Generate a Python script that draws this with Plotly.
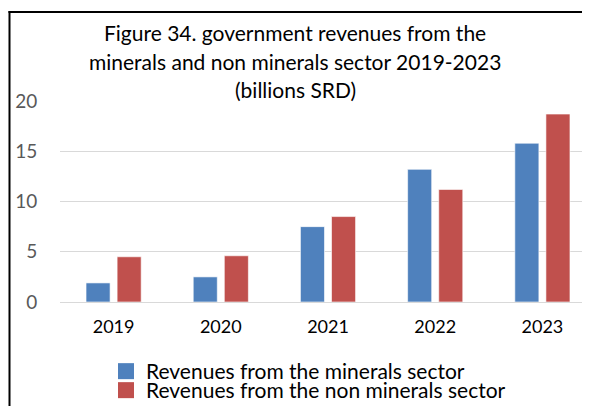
import plotly.graph_objects as go

years = ["2019", "2020", "2021", "2022", "2023"]
minerals = [1.9, 2.5, 7.5, 13.2, 15.8]
non_minerals = [4.5, 4.6, 8.5, 11.2, 18.7]
series_names = ["Revenues from the minerals sector", "Revenues from the non minerals sector"]
title_lines = ["Figure 34. government revenues from the",
               "minerals and non minerals sector 2019-2023",
               "(billions SRD)"]
y_ticks = [0, 5, 10, 15, 20]

BLUE = "#4F81BD"
RED = "#C0504D"
FONT = "Lato"

OFF = 8  # default page margin around the figure
W, H = 590 - OFF, 406 - OFF
L, R, T, B = 60 - OFF, 0, 101 - OFF, 104

fig = go.Figure()
for vals, col in [(minerals, BLUE), (non_minerals, RED)]:
    fig.add_trace(go.Bar(x=years, y=vals, marker=dict(color=col, line=dict(color="rgba(255,255,255,0.6)", width=1)),
                         showlegend=False, hoverinfo="y"))
for name, col, lg in [(series_names[0], BLUE, "legend"), (series_names[1], RED, "legend2")]:
    fig.add_trace(go.Scatter(x=[None], y=[None], mode="markers", name=name, legend=lg,
                             marker=dict(symbol="square", size=16, color=col)))

pw = W - L - R
ph = H - T - B
def px2x(p):  # page pixel -> paper x
    return (p - OFF - L) / pw
def py2y(p):  # page pixel -> paper y
    return 1 - (p - OFF - T) / ph

# chart frame: left edge and top edge
fig.add_shape(type="line", xref="paper", yref="paper", x0=px2x(9.5), x1=px2x(9.5), y0=py2y(11), y1=py2y(430),
              line=dict(color="black", width=2))
fig.add_shape(type="line", xref="paper", yref="paper", x0=px2x(8.5), x1=px2x(620), y0=py2y(12), y1=py2y(12),
              line=dict(color="black", width=2))

for line, yc in zip(title_lines, [32, 61, 89]):
    fig.add_annotation(text=line, xref="paper", yref="paper", x=px2x(295), y=py2y(yc),
                       xanchor="center", yanchor="middle", showarrow=False,
                       font=dict(family=FONT, size=21, color="#000000"))

leg_common = dict(xref="container", yref="container", xanchor="left", yanchor="top",
                  font=dict(family=FONT, size=21, color="#000000"), itemwidth=30,
                  bgcolor="rgba(0,0,0,0)")

fig.update_layout(
    width=W, height=H,
    margin=dict(l=L, r=R, t=T, b=B, autoexpand=False),
    paper_bgcolor="white", plot_bgcolor="white",
    font=dict(family=FONT, size=18, color="#000000"),
    barmode="group", bargap=0.42, bargroupgap=0.226,
    xaxis=dict(type="category", range=[-0.5, 4.444], showgrid=False, showline=False, zeroline=False,
               ticks="outside", ticklen=8, tickcolor="rgba(0,0,0,0)",
               tickfont=dict(family=FONT, size=18, color="#000000")),
    yaxis=dict(range=[0, 20], tickvals=y_ticks, showgrid=True, gridcolor="#D9D9D9", gridwidth=1,
               zeroline=True, zerolinecolor="#D9D9D9", zerolinewidth=1, showline=False,
               ticks="outside", ticklen=18, tickcolor="rgba(0,0,0,0)",
               tickfont=dict(family=FONT, size=19, color="#595959")),
    legend=dict(x=(106 - OFF) / W, y=1 - (351 - OFF) / H, **leg_common),
    legend2=dict(x=(106 - OFF) / W, y=1 - (370 - OFF) / H, **leg_common),
    showlegend=True,
)

fig.write_html("out.html", config={"displayModeBar": False})
